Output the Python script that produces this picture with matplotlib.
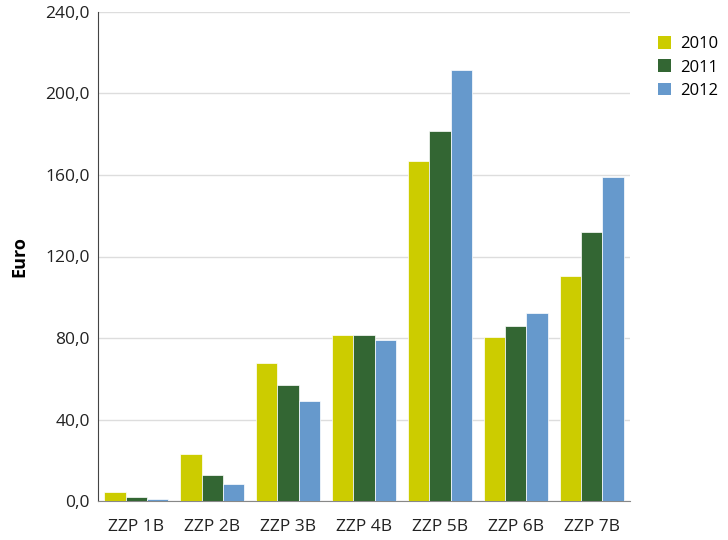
import matplotlib.pyplot as plt
import numpy as np
from matplotlib.patches import Patch

categories = ["ZZP 1B", "ZZP 2B", "ZZP 3B", "ZZP 4B", "ZZP 5B", "ZZP 6B", "ZZP 7B"]
years = ["2010", "2011", "2012"]
values_2010 = [4.4, 23.0, 68.0, 81.5, 167.0, 80.5, 110.5]
values_2011 = [2.0, 13.0, 57.0, 81.5, 181.5, 86.0, 132.0]
values_2012 = [0.8, 8.3, 49.0, 79.0, 211.5, 92.3, 159.0]
colors = ["#cccc00", "#336633", "#6699cc"]
y_ticks = [0, 40, 80, 120, 160, 200, 240]

plt.rcParams["font.family"] = ["Open Sans", "DejaVu Sans"]

fig = plt.figure(figsize=(7.28, 5.4), dpi=100)
ax = fig.add_axes([0.135, 0.072, 0.73, 0.906])

x = np.arange(len(categories))
width = 0.28
series = [values_2010, values_2011, values_2012]
for i, (vals, color) in enumerate(zip(series, colors)):
    ax.bar(x + (i - 1) * width, vals, width, color=color,
           edgecolor="white", linewidth=0.5, zorder=3)

ax.set_xlim(-0.5, len(categories) - 0.5)
ax.set_ylim(0, 240)
ax.set_yticks(y_ticks)
ax.set_yticklabels([f"{v},0" for v in y_ticks], fontsize=12.5, color="#222222")
ax.set_xticks(x)
ax.set_xticklabels(categories, fontsize=12.5, color="#222222")
ax.tick_params(axis="y", length=0, pad=6)
ax.tick_params(axis="x", length=0, pad=13)
ax.grid(True, axis="y", color="#dddddd", linewidth=1, zorder=0)

for side in ["top", "right"]:
    ax.spines[side].set_visible(False)
ax.spines["left"].set_color("#444444")
ax.spines["bottom"].set_color("#888888")

ax.set_ylabel("Euro", fontsize=13, fontweight="bold", labelpad=12)

handles = [Patch(facecolor=c, edgecolor="none") for c in colors]
fig.legend(handles, years, loc="upper left", bbox_to_anchor=(0.904, 0.933),
           frameon=False, fontsize=12, handlelength=0.8, handleheight=0.8,
           handletextpad=0.5, labelspacing=0.42, borderaxespad=0, borderpad=0)

fig.savefig("out.png", dpi=100)
